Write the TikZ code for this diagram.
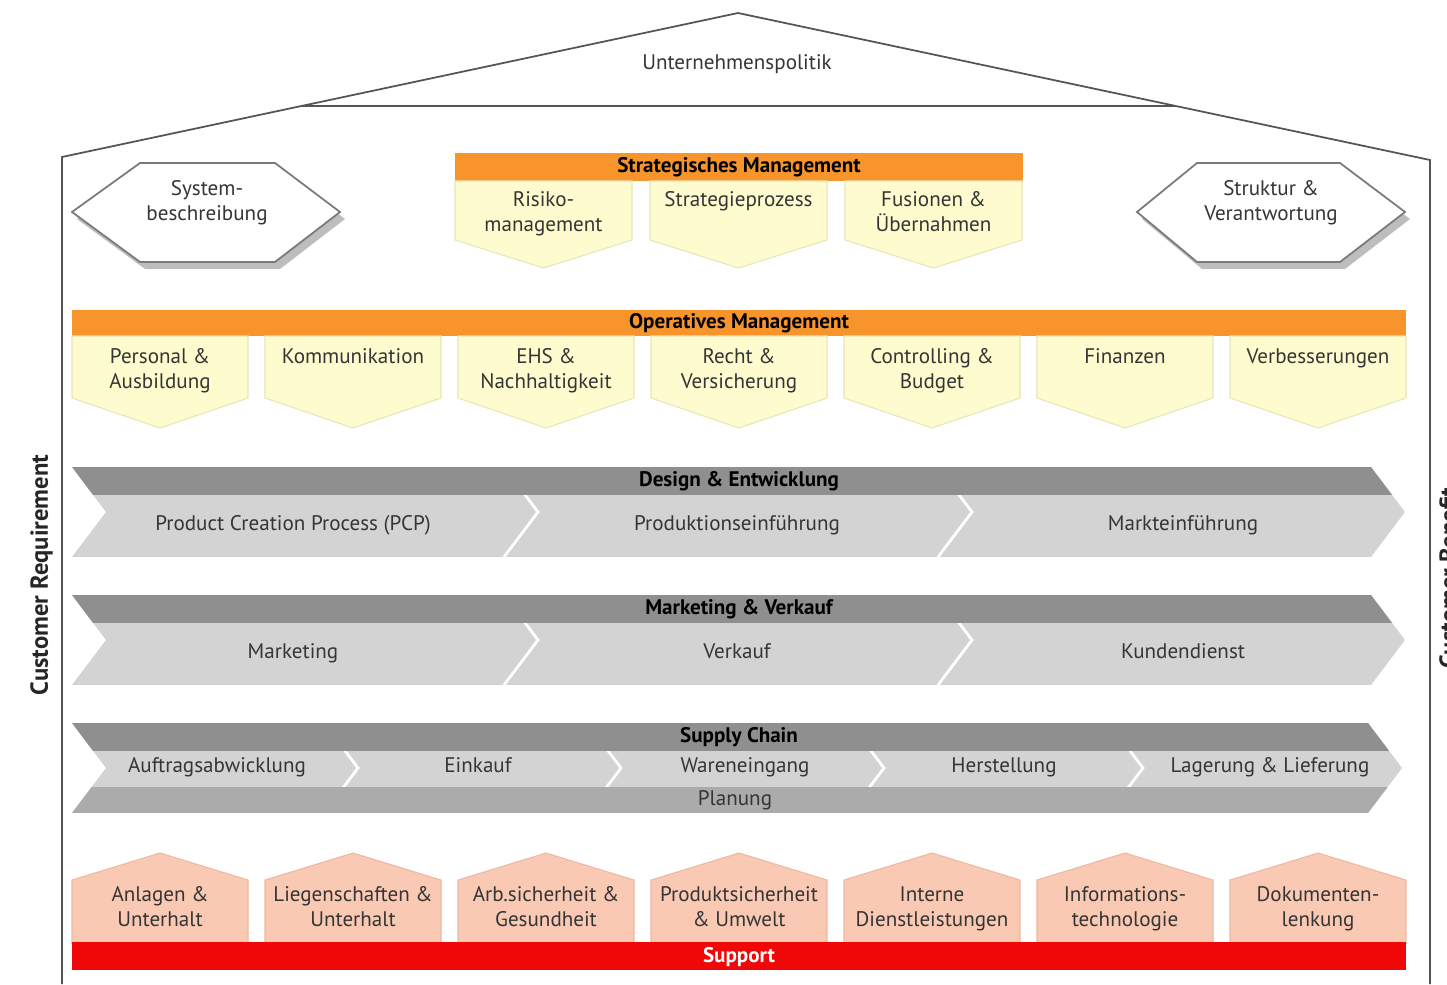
\documentclass[tikz,border=0pt]{standalone}
\usepackage{fontspec}
\setmainfont{PT Sans}
\usepackage{tikz}
\usetikzlibrary{shapes,arrows}
\definecolor{orangebar}{HTML}{F7952C}
\definecolor{paleyellow}{HTML}{FEFCCE}
\definecolor{yellowedge}{HTML}{E8E5B8}
\definecolor{salmon}{HTML}{F9C9B3}
\definecolor{salmonedge}{HTML}{EDB9A2}
\definecolor{darkband}{HTML}{8F8F8F}
\definecolor{lightband}{HTML}{D3D3D3}
\definecolor{midband}{HTML}{ABABAB}
\definecolor{supportred}{HTML}{F00808}
\definecolor{txtgray}{HTML}{353535}
\definecolor{wallgray}{HTML}{555555}
\definecolor{hexedge}{HTML}{7A7A7A}
\definecolor{hexshadow}{HTML}{BDBDBD}
\tikzstyle{boxtext} = [text=txtgray, align=center, inner sep=0pt, anchor=north,
    font=\fontsize{12}{14.2}\selectfont]
\tikzstyle{bartext} = [text=black, inner sep=0pt, text height=8.8pt, text depth=2.6pt,
    font=\bfseries\fontsize{12}{14.2}\selectfont]
\tikzstyle{steptext} = [text=txtgray, inner sep=0pt, text height=8.8pt, text depth=2.6pt,
    font=\fontsize{12}{14.2}\selectfont]
\tikzstyle{sidetext} = [text=black!85, inner sep=0pt, rotate=90, anchor=north,
    font=\bfseries\fontsize{14}{16}\selectfont]

\begin{document}
\begin{tikzpicture}[x=0.02cm, y=-0.02cm,
    opbox/.style={fill=paleyellow, draw=yellowedge, line width=0.6pt},
    supbox/.style={fill=salmon, draw=salmonedge, line width=0.6pt},
    hexbox/.style={fill=white, draw=hexedge, line width=1pt},
    wall/.style={draw=wallgray, line width=1pt},
    sep/.style={draw=white, line width=1.6pt}]
\useasboundingbox (0,0) rectangle (1447,984);

% roof and walls
\draw [wall] (62,984) -- (62,157) -- (738,13) -- (1430,160) -- (1430,984);
\draw [wall] (301,106) -- (1176,106);
\node [steptext] at (737,64) (politik) {Unternehmenspolitik};

% side texts
\node [sidetext] at (30,575) (requirement) {Customer Requirement};
\node [sidetext] at (1439,578) (benefit) {Customer Benefit};

% hexagons
\fill [hexshadow, shift={(5,7)}] (72,212) -- (140,163) -- (275,163) -- (340,212) -- (275,262) -- (140,262) -- cycle;
\draw [hexbox] (72,212) -- (140,163) -- (275,163) -- (340,212) -- (275,262) -- (140,262) -- cycle;
\node [boxtext] at (207,180) (system) {System-\\beschreibung};
\fill [hexshadow, shift={(5,7)}] (1137,212) -- (1197,163) -- (1340,163) -- (1405,212) -- (1340,262) -- (1197,262) -- cycle;
\draw [hexbox] (1137,212) -- (1197,163) -- (1340,163) -- (1405,212) -- (1340,262) -- (1197,262) -- cycle;
\node [boxtext] at (1271,180) (struktur) {Struktur \&\\Verantwortung};

% strategisches management
\fill [orangebar] (455,153) rectangle (1023,181);
\node [bartext] at (739,167) (strategisch) {Strategisches Management};
\foreach \x/\name/\txt in {455/risiko/Risiko-\\management, 650/prozess/Strategieprozess,
    845/fusionen/Fusionen \&\\Übernahmen} {
  \draw [opbox] (\x,181) -- ++(177,0) -- ++(0,59) -- ++(-88.5,28) -- ++(-88.5,-28) -- cycle;
  \node [boxtext] at (\x+88.5,191) (\name) {\txt};
}

% operatives management
\fill [orangebar] (72,310) rectangle (1406,336);
\node [bartext] at (739,323) (operativ) {Operatives Management};
\foreach \i/\name/\txt in {0/personal/Personal \&\\Ausbildung, 1/kommunikation/Kommunikation,
    2/ehs/EHS \&\\Nachhaltigkeit, 3/recht/Recht \&\\Versicherung, 4/controlling/Controlling \&\\Budget,
    5/finanzen/Finanzen, 6/verbesserung/Verbesserungen} {
  \draw [opbox] ({72+193*\i},336) -- ++(176,0) -- ++(0,62) -- ++(-88,30) -- ++(-88,-30) -- cycle;
  \node [boxtext] at ({160+193*\i},348) (\name) {\txt};
}

% design & entwicklung
\begin{scope}
\clip (72,467) -- (1371,467) -- (1405,512) -- (1371,557) -- (72,557) -- (106,512) -- cycle;
\fill [lightband] (0,467) rectangle (1447,557);
\draw [sep] (504,467) -- (538,512) -- (504,557);
\draw [sep] (938,467) -- (972,512) -- (938,557);
\fill [darkband] (0,467) rectangle (1447,495);
\end{scope}
\node [bartext] at (739,481) (design) {Design \& Entwicklung};
\node [steptext] at (293,525) (pcp) {Product Creation Process (PCP)};
\node [steptext] at (737,525) (produktion) {Produktionseinführung};
\node [steptext] at (1183,525) (markt) {Markteinführung};

% marketing & verkauf
\begin{scope}
\clip (72,595) -- (1371,595) -- (1405,640) -- (1371,685) -- (72,685) -- (106,640) -- cycle;
\fill [lightband] (0,595) rectangle (1447,685);
\draw [sep] (504,595) -- (538,640) -- (504,685);
\draw [sep] (938,595) -- (972,640) -- (938,685);
\fill [darkband] (0,595) rectangle (1447,623);
\end{scope}
\node [bartext] at (739,609) (marketingverkauf) {Marketing \& Verkauf};
\node [steptext] at (293,653) (marketing) {Marketing};
\node [steptext] at (737,653) (verkauf) {Verkauf};
\node [steptext] at (1183,653) (kundendienst) {Kundendienst};

% supply chain
\begin{scope}
\clip (72,723) -- (1368,723) -- (1402,768) -- (1368,813) -- (72,813) -- (106,768) -- cycle;
\fill [lightband] (0,723) rectangle (1447,813);
\foreach \x in {358,621,884,1143}
  \draw [sep] (\x-34,723) -- (\x,768) -- (\x-34,813);
\fill [darkband] (0,723) rectangle (1447,751);
\fill [midband] (0,787) rectangle (1447,813);
\end{scope}
\node [bartext] at (739,737) (supply) {Supply Chain};
\node [steptext] at (217,767) (auftrag) {Auftragsabwicklung};
\node [steptext] at (478,767) (einkauf) {Einkauf};
\node [steptext] at (745,767) (wareneingang) {Wareneingang};
\node [steptext] at (1004,767) (herstellung) {Herstellung};
\node [steptext] at (1270,767) (lagerung) {Lagerung \& Lieferung};
\node [steptext] at (735,800) (planung) {Planung};

% support
\foreach \i/\name/\txt in {0/anlagen/Anlagen \&\\Unterhalt, 1/liegenschaften/Liegenschaften \&\\Unterhalt,
    2/arbeit/Arb.sicherheit \&\\Gesundheit, 3/produkt/Produktsicherheit\\\& Umwelt,
    4/interne/Interne\\Dienstleistungen, 5/it/Informations-\\technologie, 6/dokumente/Dokumenten-\\lenkung} {
  \draw [supbox] ({72+193*\i},943) -- ++(0,-63) -- ++(88,-27) -- ++(88,27) -- ++(0,63) -- cycle;
  \node [boxtext] at ({160+193*\i},886) (\name) {\txt};
}
\fill [supportred] (72,942) rectangle (1406,970);
\node [bartext, text=white] at (739,957) (support) {Support};
\end{tikzpicture}
\end{document}
